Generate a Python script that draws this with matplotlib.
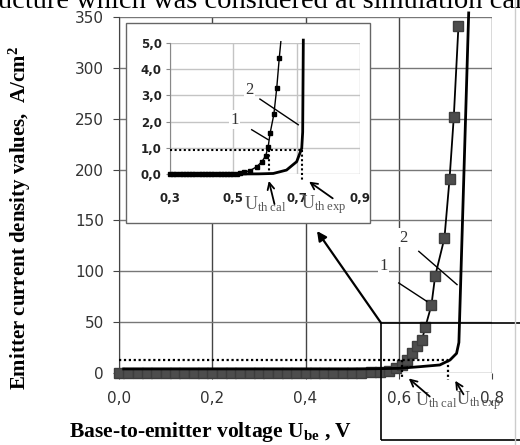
import numpy as np
import matplotlib
matplotlib.use("Agg")
import matplotlib.pyplot as plt
from matplotlib.patches import Rectangle
from matplotlib.lines import Line2D

plt.rcParams['mathtext.fontset'] = 'custom'
plt.rcParams['mathtext.rm'] = 'Liberation Serif'
plt.rcParams['mathtext.it'] = 'Liberation Serif:italic'
plt.rcParams['mathtext.bf'] = 'Liberation Serif:bold'

# main chart - curve 1 (calculated, squares)
main_x1 = [0.00, 0.02, 0.04, 0.06, 0.08, 0.10, 0.12, 0.14, 0.16, 0.18,
           0.20, 0.22, 0.24, 0.26, 0.28, 0.30, 0.32, 0.34, 0.36, 0.38,
           0.40, 0.42, 0.44, 0.46, 0.48, 0.50, 0.52, 0.54, 0.56, 0.58,
           0.595, 0.607, 0.617, 0.628, 0.639, 0.650, 0.657, 0.670, 0.678,
           0.698, 0.709, 0.718, 0.728]
main_y1 = [0, 0, 0, 0, 0, 0, 0, 0, 0, 0,
           0, 0, 0, 0, 0, 0, 0, 0, 0, 0,
           0, 0, 0, 0, 0, 0.1, 0.2, 0.5, 1.0, 2.2,
           4.5, 8.2, 13.1, 19.7, 26.2, 32.8, 45.2, 66.5, 95.1,
           132.7, 191.1, 251.4, 340.9]
# main chart - curve 2 (experimental, thick line)
main_x2 = [0.01, 0.10, 0.20, 0.30, 0.40, 0.50, 0.55, 0.60, 0.645, 0.688,
           0.710, 0.724, 0.729, 0.750]
main_y2 = [4, 4, 4, 4, 4, 4, 4.2, 4.6, 6.2, 7.9, 12.8, 19.3, 30, 354]

# thresholds
main_uth_cal = 0.607
main_uth_exp = 0.706
main_jth = 12.5

# inset - curve 1
ins_x1 = [0.30, 0.31, 0.32, 0.33, 0.34, 0.35, 0.36, 0.37, 0.38, 0.39,
          0.40, 0.41, 0.42, 0.43, 0.44, 0.45, 0.46, 0.47, 0.48, 0.49,
          0.50, 0.51, 0.52, 0.535, 0.553, 0.574, 0.590, 0.602, 0.610,
          0.616, 0.628, 0.637, 0.645]
ins_y1 = [0, 0, 0, 0, 0, 0, 0, 0, 0, 0,
          0, 0, 0, 0, 0, 0, 0, 0, 0, 0,
          0, 0.01, 0.03, 0.07, 0.13, 0.28, 0.47, 0.69, 1.04,
          1.55, 2.28, 3.27, 4.42]
ins_line1_end = (0.650, 5.05)
# inset - curve 2
ins_x2 = [0.30, 0.40, 0.50, 0.58, 0.626, 0.668, 0.700, 0.716, 0.719, 0.721]
ins_y2 = [0, 0, 0, 0.005, 0.02, 0.15, 0.47, 0.98, 1.6, 5.11]
ins_uth_cal = 0.612
ins_uth_exp = 0.716
ins_jth = 0.92

main_xticks = [0.0, 0.2, 0.4, 0.6, 0.8]
main_xlabels = ["0,0", "0,2", "0,4", "0,6", "0,8"]
main_yticks = [0, 50, 100, 150, 200, 250, 300, 350]
ins_xticks = [0.3, 0.5, 0.7, 0.9]
ins_xlabels = ["0,3", "0,5", "0,7", "0,9"]
ins_yticks = [0, 1, 2, 3, 4, 5]
ins_ylabels = ["0,0", "1,0", "2,0", "3,0", "4,0", "5,0"]

W, H = 520, 445
fig = plt.figure(figsize=(W / 100, H / 100), dpi=100)

def fx(px):
    return px / W

def fy(py):
    return 1 - py / H

ax = fig.add_axes([fx(119), fy(373), fx(492) - fx(119), fy(17) - fy(373)])
ax.set_xlim(0, 0.8)
ax.set_ylim(0, 350)
for s in ["top", "right", "bottom"]:
    ax.spines[s].set_visible(False)
ax.spines["left"].set_color("#444444")
ax.set_xticks(main_xticks)
ax.set_xticklabels(main_xlabels)
ax.set_yticks(main_yticks)
ax.tick_params(axis="both", colors="#444444", labelcolor="#333333",
               labelsize=11, length=4)
ax.tick_params(axis="x", pad=9)
ax.tick_params(axis="y", pad=7)
ax.xaxis.grid(True, color="#444444", lw=1.0)
ax.yaxis.grid(True, color="#777777", lw=1.0)
ax.set_axisbelow(True)

ax.plot(main_x1, main_y1, color="black", lw=1.3, marker="s", ms=7,
        mfc="#4d4d4d", mec="#3d3d3d", clip_on=False, zorder=3)
ax.plot(main_x2, main_y2, color="black", lw=2.0, clip_on=False, zorder=4)

ax.plot([0, main_uth_exp], [main_jth, main_jth], color="black", lw=1.6,
        ls=(0, (1, 1.2)), zorder=5)
ax.plot([main_uth_exp, main_uth_exp], [main_jth, -7], color="black", lw=1.6,
        ls=(0, (1, 1.2)), clip_on=False, zorder=5)
ax.plot([main_uth_cal, main_uth_cal], [main_jth, -5], color="black", lw=1.6,
        ls=(0, (1, 1.2)), clip_on=False, zorder=5)

lbl = dict(family="Liberation Serif", fontsize=12, color="#333333",
           ha="center", va="center",
           bbox=dict(facecolor="white", edgecolor="none", pad=1))
ax.text(0.567, 105, "1", **lbl)
ax.text(0.610, 133, "2", **lbl)
ax.plot([0.600, 0.660], [88.5, 70.5], color="black", lw=1.0, zorder=6)
ax.plot([0.643, 0.725], [119.6, 86.9], color="black", lw=1.0, zorder=6)

ut = dict(family="Liberation Serif", fontsize=13, color="#555555",
          ha="center", va="center")
ax.text(0.681, -27, r"U$_{\mathrm{th\ cal}}$", **ut)
ax.text(0.771, -27, r"U$_{\mathrm{th\ exp}}$", **ut)
arr = dict(arrowstyle="->", color="black", lw=1.3, mutation_scale=12)
ax.annotate("", xy=(0.617, -3.6), xytext=(0.671, -24.9), arrowprops=arr,
            annotation_clip=False)
ax.annotate("", xy=(0.718, -5.3), xytext=(0.742, -23.3), arrowprops=arr,
            annotation_clip=False)

# arrow from zoom box to inset
ax.annotate("", xy=(0.4247, 139.6), xytext=(0.562, 49.2),
            arrowprops=dict(arrowstyle="-|>", color="black", lw=1.6,
                            mutation_scale=14, shrinkA=0, shrinkB=0),
            zorder=7)

# zoom box outline (runs off the right edge)
fig.add_artist(Rectangle((fx(381), fy(440)), 0.5, fy(323) - fy(440),
                         transform=fig.transFigure, fill=False,
                         edgecolor="black", lw=1.2))
fig.add_artist(Line2D([fx(515), fx(515)], [0, 1], transform=fig.transFigure,
                      color="#cccccc", lw=1.0))

# inset frame
fig.add_artist(Rectangle((fx(126), fy(223)), fx(370) - fx(126),
                         fy(23) - fy(223), transform=fig.transFigure,
                         facecolor="white", edgecolor="#666666", lw=1.0,
                         zorder=3))

ins = fig.add_axes([fx(170), fy(174), fx(360) - fx(170), fy(43) - fy(174)])
ins.set_zorder(4)
ins.set_xlim(0.3, 0.9)
ins.set_ylim(0, 5)
for s in ["top", "right", "bottom"]:
    ins.spines[s].set_visible(False)
ins.spines["left"].set_color("#888888")
ins.set_xticks(ins_xticks)
ins.set_xticklabels(ins_xlabels)
ins.set_yticks(ins_yticks)
ins.set_yticklabels(ins_ylabels)
ins.tick_params(axis="both", colors="#888888", labelcolor="#222222",
                labelsize=8.5, length=3)
ins.tick_params(axis="x", length=0, pad=13)
ins.tick_params(axis="y", pad=3)
for t in ins.get_xticklabels() + ins.get_yticklabels():
    t.set_fontweight("bold")
ins.grid(True, color="#c4c4c4", lw=1.0)
ins.set_axisbelow(True)

ins.plot(list(ins_x1) + [ins_line1_end[0]], list(ins_y1) + [ins_line1_end[1]],
         color="black", lw=1.0, marker="s", ms=3.2, mfc="black", mec="black",
         markevery=list(range(len(ins_x1))), clip_on=False, zorder=3)
ins.plot(ins_x2, ins_y2, color="black", lw=2.0, clip_on=False, zorder=4)

ins.plot([0.3, ins_uth_exp], [ins_jth, ins_jth], color="black", lw=1.5,
         ls=(0, (1, 1.2)), zorder=5)
ins.plot([ins_uth_exp, ins_uth_exp], [ins_jth, -0.25], color="black", lw=1.5,
         ls=(0, (1, 1.2)), clip_on=False, zorder=5)
ins.plot([ins_uth_cal, ins_uth_cal], [ins_jth, 0], color="black", lw=1.5,
         ls=(0, (1, 1.2)), clip_on=False, zorder=5)

ins.text(0.505, 2.07, "1", **lbl)
ins.text(0.550, 3.20, "2", **lbl)
ins.plot([0.558, 0.610], [1.69, 1.31], color="black", lw=1.0, zorder=6)
ins.plot([0.584, 0.705], [2.86, 1.88], color="black", lw=1.0, zorder=6)

ins.text(0.602, -1.15, r"U$_{\mathrm{th\ cal}}$", **ut)
ins.text(0.787, -1.15, r"U$_{\mathrm{th\ exp}}$", **ut)
ins.annotate("", xy=(0.610, -0.16), xytext=(0.632, -1.25), arrowprops=arr,
             annotation_clip=False)
ins.annotate("", xy=(0.732, -0.23), xytext=(0.821, -0.99), arrowprops=arr,
             annotation_clip=False)

# axis titles
fig.text(fx(211), fy(432), r"Base-to-emitter voltage U$_{\mathbf{be}}$ , V",
         family="Liberation Serif", fontweight="bold", fontsize=15.5,
         ha="center", va="center")
fig.text(fx(20), fy(218), r"Emitter current density values,  A/cm$^{\mathbf{2}}$",
         family="Liberation Serif", fontweight="bold", fontsize=15,
         rotation=90, ha="center", va="center")

# cropped line of page text at the very top
fig.text(fx(-2), fy(7.5), "ucture which was considered at simulation can",
         family="Liberation Serif", fontsize=20.5, va="baseline", ha="left")

fig.savefig("out.png", dpi=100)
